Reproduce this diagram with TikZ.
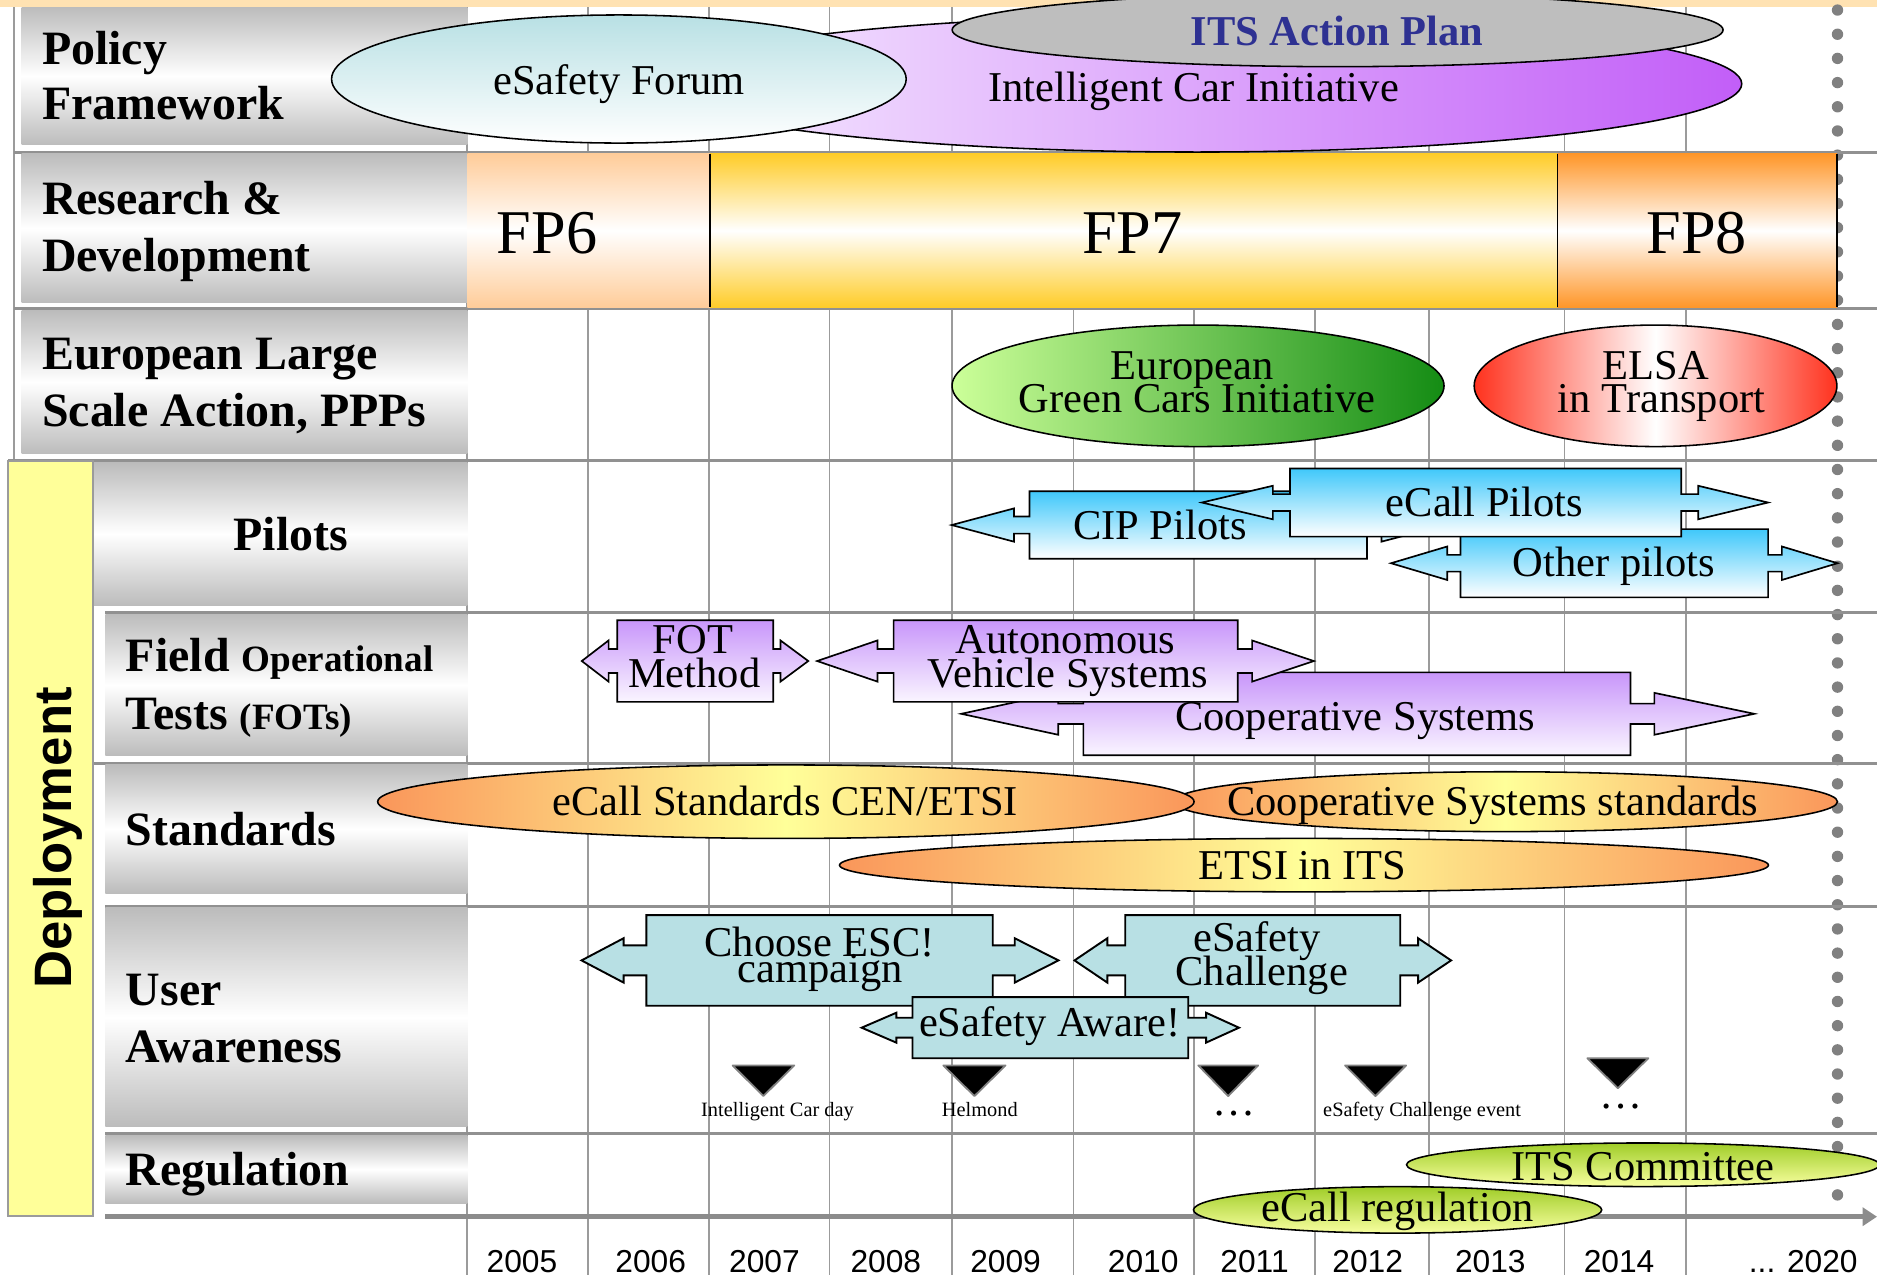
\documentclass[tikz,border=0pt]{standalone}
\usepackage{fontspec}
\usepackage{graphicx}
\setmainfont{Liberation Serif}
\newfontfamily\sansf{Liberation Sans}
\usetikzlibrary{shapes.geometric, arrows.meta}

\definecolor{peach}{RGB}{255,226,178}
\definecolor{gridgray}{RGB}{155,155,155}
\definecolor{rowgray}{RGB}{145,145,145}
\definecolor{lblgray}{RGB}{188,188,188}
\definecolor{depyellow}{RGB}{255,255,153}
\definecolor{esfteal}{RGB}{184,224,228}
\definecolor{iciL}{RGB}{247,238,255}
\definecolor{iciR}{RGB}{194,94,248}
\definecolor{itsgray}{RGB}{190,190,190}
\definecolor{itsblue}{RGB}{46,49,146}
\definecolor{fpsix}{RGB}{255,204,153}
\definecolor{fpseven}{RGB}{255,204,40}
\definecolor{fpeight}{RGB}{255,150,40}
\definecolor{greenL}{RGB}{204,255,153}
\definecolor{greenR}{RGB}{20,140,20}
\definecolor{elsared}{RGB}{255,50,30}
\definecolor{pilotblue}{RGB}{64,200,250}
\definecolor{fotpurple}{RGB}{200,150,250}
\definecolor{fotlight}{RGB}{250,245,255}
\definecolor{stdorange}{RGB}{250,150,90}
\definecolor{stdyellow}{RGB}{255,255,153}
\definecolor{uateal}{RGB}{184,224,228}
\definecolor{reggreen}{RGB}{160,205,40}
\definecolor{reglight}{RGB}{248,255,160}
\definecolor{axisgray}{RGB}{140,140,140}
\definecolor{dotgray}{RGB}{128,128,128}

\tikzset{
  gridline/.style={draw=gridgray, line width=1.5pt},
  rowline/.style={draw=rowgray, line width=2.5pt},
  lblbox/.style={top color=lblgray, bottom color=lblgray, middle color=white},
  rowlbl/.style={anchor=base west, inner sep=0pt, font=\fontsize{40}{46}\selectfont\bfseries},
  txt/.style={anchor=base, inner sep=0pt, font=\fontsize{35.5}{35.5}\selectfont},
  fptxt/.style={anchor=base, inner sep=0pt, font=\fontsize{52}{52}\selectfont},
  smalltxt/.style={anchor=base, inner sep=0pt, font=\fontsize{17}{17}\selectfont},
  dotstxt/.style={anchor=base, inner sep=0pt, font=\fontsize{36}{36}\selectfont},
  year/.style={anchor=base, inner sep=0pt, font=\sansf\fontsize{26.5}{26.5}\selectfont},
  oval/.style={ellipse, draw=black, line width=1.3pt, inner sep=0pt},
  pilotcall/.style={draw=black, line width=1.4pt, top color=pilotblue, bottom color=white},
  fotcall/.style={draw=black, line width=1.4pt, top color=fotpurple, bottom color=fotlight},
  uacall/.style={draw=black, line width=1.6pt, fill=uateal},
  eventmark/.style={fill=black, draw=gray, line width=1.5pt, line join=round},
}

% double-headed callout arrow: #1 style, #2 tipL, #3 wingL, #4 bodyL, #5 bodyR, #6 wingR, #7 tipR, #8 yc
\newcommand\dcall[8]{%
  \path[#1] (#2,#8) -- (#3,#8-\cHH) -- (#3,#8-\cHS) -- (#4,#8-\cHS) -- (#4,#8-\cHB)
    -- (#5,#8-\cHB) -- (#5,#8-\cHS) -- (#6,#8-\cHS) -- (#6,#8-\cHH) -- (#7,#8)
    -- (#6,#8+\cHH) -- (#6,#8+\cHS) -- (#5,#8+\cHS) -- (#5,#8+\cHB)
    -- (#4,#8+\cHB) -- (#4,#8+\cHS) -- (#3,#8+\cHS) -- (#3,#8+\cHH) -- cycle;}

\begin{document}
\begin{tikzpicture}[x=1pt,y=-1pt]
\useasboundingbox (0,0) rectangle (1568,1068);
\fill[white] (0,0) rectangle (1568,1068);
\fill[peach] (0,0) rectangle (1568,6);

% vertical grid
\foreach \gx in {390,491,592,693,795.5,896.7,997.5,1098.5,1194,1307,1408.5}
  \draw[gridline] (\gx,6) -- (\gx,1065);

% dotted 2020 line
\draw[dotgray, line width=9.5pt, line cap=round, dash pattern=on 0pt off 20.2pt] (1535,8.4) -- (1535,1012);

% left border and row lines
\draw[gridline] (12,6) -- (12,385);
\draw[rowline] (12,127) -- (1568,127);
\draw[rowline] (12,258) -- (1568,258);
\draw[rowline] (7,385) -- (1568,385);
\draw[rowline] (88,512) -- (1568,512);
\draw[rowline] (78,637.5) -- (1568,637.5);
\draw[rowline] (88,757.5) -- (1568,757.5);
\draw[rowline] (88,947) -- (1568,947);

% label boxes
\path[lblbox] (18,6) rectangle (390.5,121);
\path[lblbox] (18,128.5) rectangle (390.5,253);
\path[lblbox] (18,259.5) rectangle (390.5,379);
\path[lblbox] (78,386.5) rectangle (390.5,505.5);
\path[lblbox] (88,513) rectangle (390.5,631);
\path[lblbox] (88,639) rectangle (390.5,746);
\path[lblbox] (88,758.5) rectangle (390.5,941);
\path[lblbox] (88,948.5) rectangle (390.5,1005);

% Deployment box
\draw[fill=depyellow, draw=gridgray, line width=1.5pt] (7,385) rectangle (78,1016);
\node[rotate=90, anchor=base, inner sep=0pt, font=\sansf\bfseries\fontsize{44}{44}\selectfont] (dep) at (60,700) {Deployment};

% row labels
\node[rowlbl] (lpol1) at (35,53.5) {Policy};
\node[rowlbl] (lpol2) at (35,100) {Framework};
\node[rowlbl] (lrd1) at (35,179.6) {Research \&};
\node[rowlbl] (lrd2) at (35,227) {Development};
\node[rowlbl] (leu1) at (35,309) {European Large};
\node[rowlbl] (leu2) at (35,356.5) {Scale Action, PPPs};
\node[rowlbl] (lpil) at (195,459.5) {Pilots};
\node[rowlbl] (lfot1) at (105,561) {Field {\fontsize{31}{31}\selectfont Operational}};
\node[rowlbl] (lfot2) at (105,609) {Tests {\fontsize{31}{31}\selectfont (FOTs)}};
\node[rowlbl] (lstd) at (105,706) {Standards};
\node[rowlbl] (lua1) at (105,839.6) {User};
\node[rowlbl] (lua2) at (105,887.8) {Awareness};
\node[rowlbl] (lreg) at (105,990) {Regulation};

% Policy framework row
\node[oval, minimum width=910pt, minimum height=114pt, left color=iciL, right color=iciR] (ici) at (1000,70) {};
\node[txt] (iciT) at (997,85) {Intelligent Car Initiative};
\node[oval, minimum width=644pt, minimum height=61.4pt, fill=itsgray] (its) at (1117.4,25) {};
\node[txt, font=\fontsize{35.5}{35.5}\selectfont\bfseries, text=itsblue] (itsT) at (1117,37.6) {ITS Action Plan};
\node[oval, minimum width=480pt, minimum height=107pt, top color=esfteal, bottom color=white] (esf) at (517,66) {};
\node[txt] (esfT) at (517,78.8) {eSafety Forum};

% R&D row
\path[top color=fpsix, bottom color=fpsix, middle color=white] (390.5,128.4) rectangle (593,256.8);
\path[top color=fpseven, bottom color=fpseven, middle color=white] (593,128.4) rectangle (1301,256.8);
\path[top color=fpeight, bottom color=fpeight, middle color=white] (1301,128.4) rectangle (1534.5,256.8);
\draw[line width=1.5pt] (593,128.4) -- (593,256.8);
\draw[line width=1.5pt] (1301,128.4) -- (1301,256.8);
\draw[line width=1.5pt] (1534.5,128.4) -- (1534.5,256.8);
\node[fptxt] (fp6) at (457,211.6) {FP6};
\node[fptxt] (fp7) at (946,211.6) {FP7};
\node[fptxt] (fp8) at (1417.5,211.6) {FP8};

% Large scale actions
\node[oval, minimum width=411pt, minimum height=101.5pt, left color=greenL, right color=greenR] (egci) at (1000.8,322.3) {};
\node[txt] (egciT1) at (996,317) {European};
\node[txt] (egciT2) at (1000,344.5) {Green Cars Initiative};
\node[oval, minimum width=303pt, minimum height=101.5pt, left color=elsared, right color=elsared, middle color=white] (elsa) at (1383,322.3) {};
\node[txt] (elsaT1) at (1383,317) {ELSA};
\node[txt] (elsaT2) at (1388,344.5) {in Transport};

% Pilots
\def\cHB{28.2}\def\cHH{13.9}\def\cHS{7.2}
\dcall{pilotcall}{795}{847}{860}{1142}{1154}{1207}{438.6}
\node[txt] (cipT) at (969,451) {CIP Pilots};
\def\cHB{28.5}\def\cHH{14}\def\cHS{7}
\dcall{pilotcall}{1162}{1209}{1220}{1477}{1488.5}{1535}{470.5}
\node[txt] (othT) at (1348,481.8) {Other pilots};
\dcall{pilotcall}{1004}{1063.3}{1077.6}{1404.5}{1418.6}{1477}{419.8}
\node[txt] (ecpT) at (1240,431.6) {eCall Pilots};

% FOTs
\def\cHB{34.6}\def\cHH{17.5}\def\cHS{8.5}
\dcall{fotcall}{803}{884}{905}{1362}{1382}{1465.5}{596.3}
\node[txt] (coopT) at (1132,610) {Cooperative Systems};
\def\cHB{34.1}\def\cHH{17.2}\def\cHS{10}
\dcall{fotcall}{682.6}{733}{746.5}{1034}{1046}{1097.6}{552.2}
\node[txt] (avsT1) at (890,545.8) {Autonomous};
\node[txt] (avsT2) at (892,574) {Vehicle Systems};
\dcall{fotcall}{486}{508.4}{515.6}{646}{652}{675.2}{552.2}
\node[txt] (fotT1) at (579,545.8) {FOT};
\node[txt] (fotT2) at (580,574) {Method};

% Standards
\node[oval, minimum width=555pt, minimum height=50pt, left color=stdorange, right color=stdorange, middle color=stdyellow] (coopstd) at (1257.5,669.7) {};
\node[txt] (coopstdT) at (1247,681) {Cooperative Systems standards};
\node[oval, minimum width=682pt, minimum height=61.4pt, left color=stdorange, right color=stdorange, middle color=stdyellow] (ecstd) at (656.5,669.7) {};
\node[txt] (ecstdT) at (656,681) {eCall Standards CEN/ETSI};
\node[oval, minimum width=776pt, minimum height=44.6pt, left color=stdorange, right color=stdorange, middle color=stdyellow] (etsi) at (1089.3,722.7) {};
\node[txt] (etsiT) at (1088,735) {ETSI in ITS};

% User awareness
\def\cHB{37.9}\def\cHH{18.5}\def\cHS{12.5}
\dcall{uacall}{485.8}{520.9}{540}{829.3}{847.7}{884.2}{802.3}
\node[txt] (escT1) at (684.7,799) {Choose ESC!};
\node[txt] (escT2) at (685,821) {campaign};
\dcall{uacall}{897.6}{925}{940}{1169.7}{1184.7}{1212.2}{802.3}
\node[txt] (escT3) at (1050,795) {eSafety};
\node[txt] (escT4) at (1054,823) {Challenge};
\def\cHB{25.5}\def\cHH{12.5}\def\cHS{8.3}
\dcall{uacall}{719.8}{748.8}{762.3}{992.6}{1007.5}{1035}{858.5}
\node[txt] (awT) at (877,866) {eSafety Aware!};

% events
\path[eventmark] (612,890) -- (663.5,890) -- (637.7,915.6) -- cycle;
\path[eventmark] (788,890) -- (840,890) -- (814,915.6) -- cycle;
\path[eventmark] (1001,890) -- (1051,890) -- (1026,915.6) -- cycle;
\path[eventmark] (1123.6,890) -- (1174.6,890) -- (1149,915.6) -- cycle;
\path[eventmark] (1326,884) -- (1377,884) -- (1351.5,909) -- cycle;
\node[smalltxt] (ev1) at (649.5,933) {Intelligent Car day};
\node[smalltxt] (ev2) at (818.5,933) {Helmond};
\node[dotstxt] (ev3) at (1030.5,932) {…};
\node[smalltxt] (ev4) at (1188,933) {eSafety Challenge event};
\node[dotstxt] (ev5) at (1354,926) {…};

% time axis
\coordinate (axL) at (88,1016.4);
\coordinate (axR) at (1568,1016.4);
\draw[axisgray, line width=4.5pt, -{Triangle[length=12pt,width=15pt]}] (axL) -- (axR);

% Regulation
\node[oval, minimum width=395pt, minimum height=36.4pt, top color=reggreen, bottom color=reglight] (itsc) at (1372.5,973) {};
\node[txt] (itscT) at (1372.5,985.8) {ITS Committee};
\node[oval, minimum width=341pt, minimum height=38.8pt, top color=reggreen, bottom color=reglight] (ecreg) at (1167.5,1010.7) {};
\node[txt] (ecregT) at (1167.5,1020.6) {eCall regulation};

% years
\foreach \yx/\yl [count=\i] in {436/2005,543.6/2006,638.6/2007,740/2008,840/2009,955/2010,1048/2011,1142.5/2012,1245/2013,1352.5/2014}
  \node[year] (yr\i) at (\yx,1063) {\yl};
\node[year, anchor=base east] (yr2020) at (1552,1063) {... 2020};
\end{tikzpicture}
\end{document}
